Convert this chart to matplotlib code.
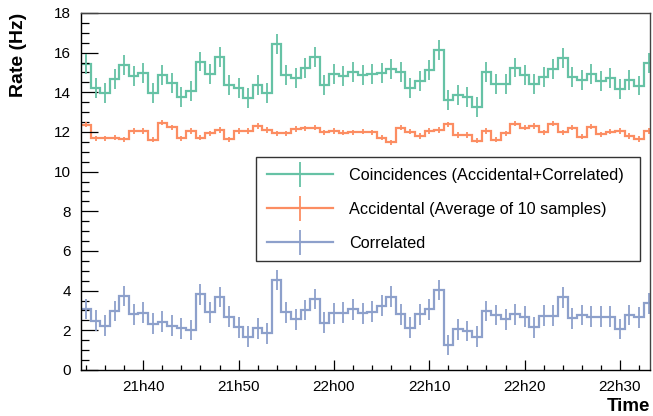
import numpy as np
import matplotlib
matplotlib.use("Agg")
import matplotlib.pyplot as plt
from matplotlib.lines import Line2D
from matplotlib.ticker import FuncFormatter, MultipleLocator

plt.rcParams['font.family'] = ['Liberation Sans', 'DejaVu Sans']

# bin centres in minutes after 21h00 (one bin per minute, 21h34 .. 22h33)
minutes = np.arange(34, 94)

coinc = [15.42, 14.20, 13.95, 14.67, 15.38, 14.83, 14.96, 13.95, 14.88, 14.46,
         13.78, 14.07, 15.55, 14.91, 15.77, 14.37, 14.20, 13.73, 14.37, 13.95,
         16.44, 14.88, 14.71, 15.21, 15.80, 14.37, 14.91, 14.84, 15.04, 14.88,
         14.91, 14.96, 15.16, 15.01, 14.20, 14.59, 15.13, 16.14, 13.62, 13.87,
         13.78, 13.28, 15.01, 14.41, 14.41, 15.25, 14.88, 14.41, 14.79, 15.16,
         15.72, 14.79, 14.62, 14.91, 14.57, 14.74, 14.17, 14.62, 14.34, 15.47]

accid = [12.36, 11.68, 11.68, 11.72, 11.63, 12.05, 12.05, 11.60, 12.47, 12.24,
         11.68, 12.05, 11.72, 11.93, 12.10, 11.63, 12.05, 12.05, 12.30, 12.10,
         11.94, 11.94, 12.15, 12.18, 12.22, 11.99, 12.05, 11.97, 11.99, 12.02,
         11.99, 11.72, 11.48, 12.22, 12.02, 11.80, 12.05, 12.10, 12.39, 11.85,
         11.85, 11.55, 12.05, 11.60, 11.94, 12.41, 12.22, 12.30, 11.99, 12.41,
         11.99, 12.22, 11.77, 12.26, 11.88, 12.02, 12.05, 11.80, 11.65, 12.05]

corr = [3.08, 2.49, 2.24, 2.98, 3.73, 2.81, 2.89, 2.34, 2.44, 2.24,
        2.10, 2.02, 3.82, 2.91, 3.68, 2.69, 2.15, 1.68, 2.10, 1.85,
        4.54, 2.91, 2.55, 3.03, 3.58, 2.39, 2.86, 2.89, 3.06, 2.86,
        2.94, 3.24, 3.70, 2.81, 2.13, 2.81, 3.06, 4.03, 1.26, 2.05,
        1.97, 1.68, 2.98, 2.77, 2.55, 2.81, 2.69, 2.15, 2.74, 2.74,
        3.66, 2.61, 2.77, 2.69, 2.69, 2.69, 2.07, 2.77, 2.66, 3.36]

coinc_err = 0.5
accid_err = 0.13
corr_err = 0.52

labels = ['Coincidences (Accidental+Correlated)',
          'Accidental (Average of 10 samples)',
          'Correlated']
colors = ['#66c2a5', '#fc8d62', '#8da0cb']

fig = plt.figure(figsize=(6.53, 4.16), dpi=100)
ax = fig.add_axes([0.124, 0.1106, 0.8714, 0.8582])

edges = np.append(minutes - 0.5, minutes[-1] + 0.5)
handles = []
for vals, err, col, lab in zip([coinc, accid, corr], [coinc_err, accid_err, corr_err],
                               colors, labels):
    ax.stairs(vals, edges, color=col, lw=1.6, baseline=None)
    ax.errorbar(minutes, vals, yerr=err, fmt='none', ecolor=col, elinewidth=1.3)
    handles.append(Line2D([], [], color=col, lw=1.6, marker='|', markersize=18,
                          markeredgewidth=1.3))

ax.set_xlim(33.47, 93.15)
ax.set_ylim(0, 18)

ax.xaxis.set_major_locator(MultipleLocator(10))
ax.xaxis.set_minor_locator(MultipleLocator(2))
ax.yaxis.set_major_locator(MultipleLocator(2))
ax.yaxis.set_minor_locator(MultipleLocator(0.5))
ax.xaxis.set_major_formatter(FuncFormatter(
    lambda v, p: '%dh%02d' % (21 + int(v) // 60, int(v) % 60)))

ax.tick_params(axis='both', which='both', direction='in', labelsize=11,
               width=0.9, top=False, right=False)
ax.tick_params(axis='y', which='major', length=12, pad=7)
ax.tick_params(axis='y', which='minor', length=6)
ax.tick_params(axis='x', which='major', length=7.5, pad=7)
ax.tick_params(axis='x', which='minor', length=3.8)

for s in ['left', 'bottom']:
    ax.spines[s].set_linewidth(1.0)
    ax.spines[s].set_color('black')
for s in ['top', 'right']:
    ax.spines[s].set_linewidth(1.0)
    ax.spines[s].set_color('#444444')

ax.set_ylabel('Rate (Hz)', fontsize=14, fontweight='bold', loc='top')
ax.yaxis.set_label_coords(-0.095, 1.0)
ax.set_xlabel('Time', fontsize=13.5, fontweight='bold', loc='right')
ax.xaxis.set_label_coords(1.0, -0.078)

leg = ax.legend(handles, labels, loc='center', bbox_to_anchor=(0.308, 0.30, 0.674, 0.30),
                mode='expand', borderaxespad=0, fontsize=11.7, frameon=True,
                fancybox=False, edgecolor='black', handlelength=4.1,
                handletextpad=0.95, labelspacing=1.17, borderpad=0.65, numpoints=1)
leg.get_frame().set_linewidth(1.0)

fig.savefig('out.png', dpi=100)
